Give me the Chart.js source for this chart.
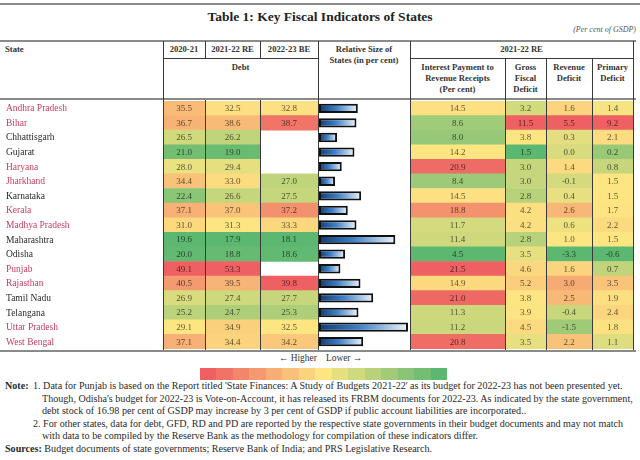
<!DOCTYPE html>
<html>
<head>
<meta charset="utf-8">
<script src="https://cdn.jsdelivr.net/npm/chart.js@4.4.1/dist/chart.umd.min.js"></script>
<style>
  body { margin: 0; width: 640px; height: 460px; background: #fff; position: relative; overflow: hidden;
         font-family: "Liberation Serif", "DejaVu Serif", serif; color: #2a2a2a; }
  .abs { position: absolute; }
  .rule { position: absolute; background: #8a8a8a; }
  .vl { position: absolute; width: 1px; background: #3a3a3a; z-index: 5; }
  .hl { position: absolute; height: 1px; background: #3a3a3a; z-index: 5; }
  .hd { position: absolute; text-align: center; font-size: 8.6px; line-height: 11px; font-weight: bold; color: #333; }
  .note { position: absolute; font-size: 10.1px; white-space: nowrap; color: #2a2a2a; }
  canvas { position: absolute; }
</style>
</head>
<body>

<div class="rule" style="left:0;top:3px;width:640px;height:2px;"></div>
<div class="abs" style="left:0;top:9px;width:640px;text-align:center;font-size:13.5px;font-weight:bold;color:#222;">Table 1: Key Fiscal Indicators of States</div>
<div class="abs" style="right:4px;top:25px;font-size:8px;font-style:italic;color:#555;">(Per cent of GSDP)</div>
<div class="rule" style="left:0;top:40px;width:636px;height:2px;"></div>
<div class="rule" style="left:0;top:98px;width:636px;height:2px;"></div>
<div class="rule" style="left:0;top:350px;width:636px;height:2px;"></div>

<div class="hd" style="left:5px;top:44px;text-align:left;">State</div>
<div class="hd" style="left:163px;top:44px;width:42px;">2020-21</div>
<div class="hd" style="left:205px;top:44px;width:55px;">2021-22 RE</div>
<div class="hd" style="left:260px;top:44px;width:58px;">2022-23 BE</div>
<div class="hd" style="left:163px;top:62px;width:155px;">Debt</div>
<div class="hd" style="left:318px;top:44px;width:92px;">Relative Size of<br>States (in per cent)</div>
<div class="hd" style="left:410px;top:44px;width:223px;">2021-22 RE</div>
<div class="hd" style="left:410px;top:62px;width:95px;">Interest Payment to<br>Revenue Receipts<br>(Per cent)</div>
<div class="hd" style="left:505px;top:62px;width:41px;">Gross<br>Fiscal<br>Deficit</div>
<div class="hd" style="left:546px;top:62px;width:46px;">Revenue<br>Deficit</div>
<div class="hd" style="left:592px;top:62px;width:41px;">Primary<br>Deficit</div>

<div class="hl" style="left:163px;top:58px;width:155px;"></div>
<div class="hl" style="left:410px;top:58px;width:223px;"></div>
<div class="vl" style="left:163px;top:41px;height:309px;"></div>
<div class="vl" style="left:205px;top:41px;height:17px;"></div>
<div class="vl" style="left:260px;top:41px;height:17px;"></div>
<div class="vl" style="left:205px;top:100px;height:250px;"></div>
<div class="vl" style="left:260px;top:100px;height:250px;"></div>
<div class="vl" style="left:318px;top:41px;height:309px;"></div>
<div class="vl" style="left:410px;top:41px;height:309px;"></div>
<div class="vl" style="left:505px;top:58px;height:292px;"></div>
<div class="vl" style="left:546px;top:58px;height:292px;"></div>
<div class="vl" style="left:592px;top:58px;height:292px;"></div>
<div class="vl" style="left:633px;top:41px;height:309px;"></div>

<div class="abs" style="left:279px;top:353px;font-size:9.4px;color:#333;">&larr; Higher</div>
<div class="abs" style="left:326px;top:353px;font-size:9.4px;color:#333;">Lower &rarr;</div>
<div id="strip" class="abs" style="left:200px;top:368px;width:247px;height:12px;display:flex;"></div>

<div class="note" style="left:5px;top:380px;"><b>Note:</b></div>
<div class="note" style="left:33px;top:380px;">1. Data for Punjab is based on the Report titled 'State Finances: A Study of Budgets 2021-22' as its budget for 2022-23 has not been presented yet.</div>
<div class="note" style="left:42px;top:392.5px;">Though, Odisha's budget for 2022-23 is Vote-on-Account, it has released its FRBM documents for 2022-23. As indicated by the state government,</div>
<div class="note" style="left:42px;top:405px;">debt stock of 16.98 per cent of GSDP may increase by 3 per cent of GSDP if public account liabilities are incorporated..</div>
<div class="note" style="left:33px;top:417.5px;">2. For other states, data for debt, GFD, RD and PD are reported by the respective state governments in their budget documents and may not match</div>
<div class="note" style="left:42px;top:430px;">with data to be compiled by the Reserve Bank as the methodology for compilation of these indicators differ.</div>
<div class="note" style="left:5px;top:442.5px;"><b>Sources:</b> Budget documents of state governments; Reserve Bank of India; and PRS Legislative Research.</div>

<script>
const states = ["Andhra Pradesh", "Bihar", "Chhattisgarh", "Gujarat", "Haryana", "Jharkhand", "Karnataka",
  "Kerala", "Madhya Pradesh", "Maharashtra", "Odisha", "Punjab", "Rajasthan", "Tamil Nadu", "Telangana",
  "Uttar Pradesh", "West Bengal"];
const highlyIndebted = ["Andhra Pradesh", "Bihar", "Haryana", "Jharkhand", "Kerala", "Madhya Pradesh",
  "Punjab", "Rajasthan", "Uttar Pradesh", "West Bengal"];

const debt2021 = [35.5, 36.7, 26.5, 21.0, 28.0, 34.4, 22.4, 37.1, 31.0, 19.6, 20.0, 49.1, 40.5, 26.9, 25.2, 29.1, 37.1];
const debt2122 = [32.5, 38.6, 26.2, 19.0, 29.4, 33.0, 26.6, 37.0, 31.3, 17.9, 18.8, 53.3, 39.5, 27.4, 24.7, 34.9, 34.4];
const debt2223 = [32.8, 38.7, null, null, null, 27.0, 27.5, 37.2, 33.3, 18.1, 18.6, null, 39.8, 27.7, 25.3, 32.5, 34.2];
const relSize = [5.8, 5.6, 2.7, 5.3, 3.4, 2.4, 6.3, 4.3, 5.6, 11.4, 3.9, 3.2, 6.2, 8.1, 5.9, 13.3, 6.6];
const interestToRR = [14.5, 8.6, 8.0, 14.2, 20.9, 8.4, 14.5, 18.8, 11.7, 11.4, 4.5, 21.5, 14.9, 21.0, 11.3, 11.2, 20.8];
const gfd = [3.2, 11.5, 3.8, 1.5, 3.0, 3.0, 2.8, 4.2, 4.2, 2.8, 3.5, 4.6, 5.2, 3.8, 3.9, 4.5, 3.5];
const rd = [1.6, 5.5, 0.3, 0.0, 1.4, -0.1, 0.4, 2.6, 0.6, 1.0, -3.3, 1.6, 3.0, 2.5, -0.4, -1.5, 2.2];
const pd = [1.4, 9.2, 2.1, 0.2, 0.8, 1.5, 1.5, 1.7, 2.2, 1.5, -0.6, 0.7, 3.5, 1.9, 2.4, 1.8, 1.1];

// layout
const BODY_TOP = 101, BODY_H = 248;
const RED = [238, 96, 98], YEL = [253, 230, 130], GRN = [92, 183, 113];

function mix(a, b, t) {
  return a.map((v, i) => Math.round(v + (b[i] - v) * t));
}
function rgb(c) { return `rgb(${c[0]},${c[1]},${c[2]})`; }

function median(arr) {
  const s = arr.filter(v => v !== null).sort((a, b) => a - b);
  const m = Math.floor(s.length / 2);
  return s.length % 2 ? s[m] : (s[m - 1] + s[m]) / 2;
}

// excel style 3-colour scale, higher = red
function cellColors(vals) {
  const ok = vals.filter(v => v !== null);
  const lo = Math.min(...ok), hi = Math.max(...ok), mid = median(vals);
  return vals.map(v => {
    if (v === null) return null;
    if (v >= mid) return mix(YEL, RED, hi === mid ? 0 : (v - mid) / (hi - mid));
    return mix(YEL, GRN, (mid - v) / (mid - lo));
  });
}

const cellText = {
  id: 'cellText',
  afterDatasetsDraw(chart) {
    const ds = chart.data.datasets[0];
    const meta = chart.getDatasetMeta(0);
    const c = chart.ctx;
    c.save();
    c.font = '9px "Liberation Serif"';
    c.textAlign = 'center';
    c.textBaseline = 'middle';
    meta.data.forEach((bar, i) => {
      const v = ds.values[i];
      if (v === null) return;
      c.fillStyle = rgb(mix(ds.cells[i], [0, 0, 0], 0.62));
      c.fillText(v.toFixed(1), (bar.x + bar.base) / 2, bar.y + 0.5);
    });
    c.restore();
  }
};

const stateLabels = {
  id: 'stateLabels',
  afterDraw(chart) {
    const y = chart.scales.y, c = chart.ctx;
    c.save();
    c.font = '9.5px "Liberation Serif"';
    c.textBaseline = 'middle';
    states.forEach((s, i) => {
      c.fillStyle = highlyIndebted.includes(s) ? '#c53d60' : '#2a2a2a';
      c.fillText(s, 6, y.getPixelForValue(i) + 0.5);
    });
    c.restore();
  }
};

function makeCanvas(left, width) {
  const cv = document.createElement('canvas');
  cv.width = width; cv.height = BODY_H;
  cv.style.left = left + 'px'; cv.style.top = BODY_TOP + 'px';
  document.body.appendChild(cv);
  return cv;
}

function heatColumn(left, right, vals, withLabels) {
  const x0 = withLabels ? 0 : left;
  const cv = makeCanvas(x0, right - x0);
  const cells = cellColors(vals);
  new Chart(cv, {
    type: 'bar',
    data: {
      labels: states,
      datasets: [{
        data: vals.map(v => v === null ? null : [0, 1]),
        values: vals,
        cells: cells,
        backgroundColor: cells.map(c => c ? rgb(c) : 'rgba(0,0,0,0)'),
        borderWidth: 0,
        barPercentage: 1,
        categoryPercentage: 1
      }]
    },
    options: {
      indexAxis: 'y',
      responsive: false,
      animation: false,
      layout: { padding: { left: withLabels ? left - x0 : 0, right: 0, top: 0, bottom: 0 } },
      scales: {
        x: { display: false, min: 0, max: 1 },
        y: { display: false }
      },
      plugins: { legend: { display: false }, tooltip: { enabled: false } }
    },
    plugins: withLabels ? [cellText, stateLabels] : [cellText]
  });
}

heatColumn(163, 205, debt2021, true);
heatColumn(205, 260, debt2122);
heatColumn(260, 318, debt2223);
heatColumn(410, 505, interestToRR);
heatColumn(505, 546, gfd);
heatColumn(546, 592, rd);
heatColumn(592, 633, pd);

// relative size bars
const sizeCanvas = makeCanvas(319, 91);
new Chart(sizeCanvas, {
  type: 'bar',
  data: {
    labels: states,
    datasets: [{
      data: relSize,
      backgroundColor: ctx => {
        const chart = ctx.chart;
        if (!chart.chartArea || ctx.type !== 'data') return '#3a78c0';
        const xs = chart.scales.x;
        const a = xs.getPixelForValue(0), b = xs.getPixelForValue(ctx.raw);
        const g = chart.ctx.createLinearGradient(a, 0, b, 0);
        g.addColorStop(0, '#103a72');
        g.addColorStop(0.45, '#3f80c6');
        g.addColorStop(1, '#eef5fc');
        return g;
      },
      borderColor: '#111',
      borderWidth: 2,
      borderSkipped: false,
      barPercentage: 0.64,
      categoryPercentage: 1
    }]
  },
  options: {
    indexAxis: 'y',
    responsive: false,
    animation: false,
    layout: { padding: 0 },
    scales: {
      x: { display: false, min: 0, max: 13.6 },
      y: { display: false }
    },
    plugins: { legend: { display: false }, tooltip: { enabled: false } }
  }
});

// colour key strip
const strip = document.getElementById('strip');
for (let i = 0; i < 15; i++) {
  const t = i / 14;
  const c = t < 0.5 ? mix(RED, YEL, t * 2) : mix(YEL, GRN, (t - 0.5) * 2);
  const d = document.createElement('div');
  d.style.flex = '1';
  d.style.background = rgb(c);
  strip.appendChild(d);
}
</script>
</body>
</html>
